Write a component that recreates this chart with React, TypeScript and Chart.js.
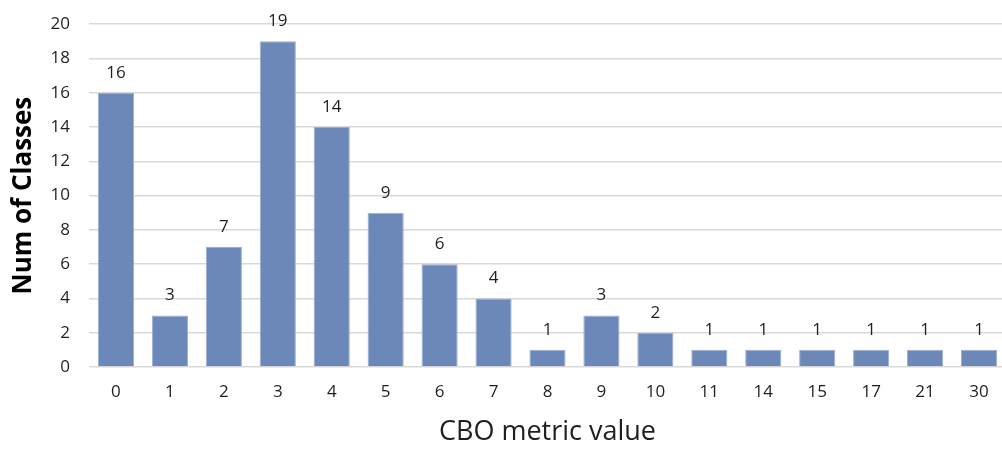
import React, { useEffect, useRef } from "react";
import { Chart, registerables } from "chart.js";

Chart.register(...registerables);

const categories = ["0", "1", "2", "3", "4", "5", "6", "7", "8", "9", "10", "11", "14", "15", "17", "21", "30"];
const classCounts = [16, 3, 7, 19, 14, 9, 6, 4, 1, 3, 2, 1, 1, 1, 1, 1, 1];
const yTicks = [0, 2, 4, 6, 8, 10, 12, 14, 16, 18, 20];

const FONT = "'Open Sans', Lato, sans-serif";
const CANVAS_W = 1006;
const CANVAS_H = 454;
const X_AXIS_H = 82;

// Writes each bar's value just above it
const valueLabels = {
  id: "valueLabels",
  afterDatasetsDraw(chart: any) {
    const { ctx } = chart;
    const meta = chart.getDatasetMeta(0);
    const data = chart.data.datasets[0].data as number[];
    ctx.save();
    ctx.font = `17px ${FONT}`;
    ctx.fillStyle = "#1f1f1f";
    ctx.textAlign = "center";
    ctx.textBaseline = "middle";
    meta.data.forEach((bar: any, i: number) => {
      ctx.fillText(String(data[i]), bar.x, bar.y - 20);
    });
    ctx.restore();
  },
};

export default function App() {
  const ref = useRef<HTMLCanvasElement>(null);

  useEffect(() => {
    if (!ref.current) return;
    const chart = new Chart(ref.current, {
      type: "bar",
      data: {
        labels: categories,
        datasets: [
          {
            data: classCounts,
            backgroundColor: "#6C88B8",
            borderColor: "#9AAED2",
            borderWidth: 1,
            categoryPercentage: 1,
            barPercentage: 0.67,
          },
        ],
      },
      options: {
        animation: false,
        responsive: false,
        maintainAspectRatio: false,
        layout: { padding: { top: 15, right: 0, bottom: 0, left: 0 } },
        plugins: {
          legend: { display: false },
          tooltip: { enabled: false },
        },
        scales: {
          x: {
            grid: { display: false, drawTicks: false },
            border: { display: false },
            ticks: {
              padding: 15,
              color: "#1f1f1f",
              font: { family: FONT, size: 17 },
            },
            title: {
              display: true,
              text: "CBO metric value",
              color: "#1f1f1f",
              font: { family: FONT, size: 27 },
              padding: { top: 0, bottom: 0 },
            },
            afterFit(scale: any) {
              scale.height = X_AXIS_H;
            },
          },
          y: {
            min: 0,
            max: 20,
            afterBuildTicks(scale: any) {
              scale.ticks = yTicks.map((v) => ({ value: v }));
            },
            grid: {
              color: "#D9D9D9",
              lineWidth: 1.5,
              drawTicks: false,
            },
            border: { display: false },
            ticks: {
              padding: 19,
              color: "#1f1f1f",
              font: { family: FONT, size: 17 },
            },
            title: {
              display: true,
              text: "Num of Classes",
              color: "#000000",
              font: { family: FONT, size: 26, weight: "bold" },
              padding: { top: 8, bottom: 0 },
            },
            afterFit(scale: any) {
              scale.width = 89;
            },
          },
        },
      },
      plugins: [valueLabels],
    });
    return () => chart.destroy();
  }, []);

  return (
    <div
      style={{
        position: "fixed",
        left: 0,
        top: 0,
        width: 1002,
        height: 449,
        overflow: "hidden",
        background: "#fff",
      }}
    >
      <canvas
        ref={ref}
        width={CANVAS_W}
        height={CANVAS_H}
        style={{ position: "absolute", left: 0, top: 449 - CANVAS_H }}
      />
    </div>
  );
}
